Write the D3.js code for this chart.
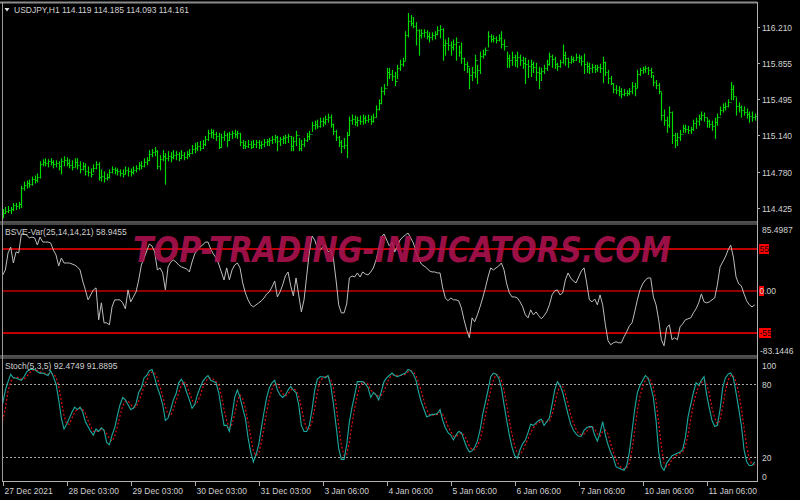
<!DOCTYPE html>
<html>
<head>
<meta charset="utf-8">
<script src="https://cdn.jsdelivr.net/npm/d3@7/dist/d3.min.js"></script>
<style>
body { margin: 0; background: #000; }
svg { display: block; }
text { font-family: "Liberation Sans", Arial, sans-serif; font-size: 8.5px; fill: #d0d0d0; }
</style>
</head>
<body>
<div id="chart"></div>
<script>
// USDJPY H1 bars, one value per bar (open = previous close)
const high = [114.41,114.43,114.44,114.43,114.47,114.47,114.48,114.64,114.68,114.69,114.70,114.73,114.74,114.76,114.88,114.90,114.91,114.90,114.91,114.89,114.89,114.88,114.91,114.93,
114.92,114.90,114.89,114.91,114.91,114.88,114.87,114.86,114.83,114.81,114.85,114.88,114.87,114.80,114.78,114.76,114.80,114.83,114.82,114.81,114.80,114.80,114.83,114.82,
114.81,114.83,114.84,114.87,114.88,114.91,114.92,114.99,115.00,115.02,114.99,114.94,114.99,114.96,114.98,114.97,114.99,114.98,114.97,114.99,114.97,114.98,115.00,115.04,
115.06,115.07,115.08,115.09,115.13,115.19,115.20,115.19,115.17,115.16,115.15,115.18,115.16,115.17,115.18,115.19,115.18,115.16,115.09,115.08,115.09,115.08,115.09,115.09,
115.09,115.08,115.10,115.10,115.11,115.13,115.14,115.13,115.12,115.13,115.14,115.15,115.13,115.12,115.18,115.11,115.09,115.11,115.16,115.18,115.27,115.28,115.29,115.31,
115.31,115.33,115.35,115.34,115.25,115.19,115.13,115.09,115.11,115.17,115.32,115.34,115.33,115.32,115.33,115.34,115.33,115.34,115.33,115.35,115.43,115.49,115.61,115.64,
115.80,115.80,115.78,115.76,115.83,115.88,115.90,116.16,116.34,116.32,116.30,116.25,116.18,116.18,116.18,116.17,116.15,116.15,116.16,116.21,116.22,116.19,116.08,116.10,
116.06,116.08,116.10,116.02,116.05,115.90,115.86,115.80,115.81,115.93,115.83,115.96,115.98,116.00,116.16,116.13,116.12,116.11,116.13,116.16,116.08,115.96,115.93,115.96,
115.93,115.96,115.93,115.91,115.90,115.88,115.88,115.86,115.85,115.81,115.80,115.83,115.88,115.95,115.93,115.91,115.85,115.88,116.03,115.96,115.90,115.92,115.91,115.94,
115.93,115.92,115.94,115.86,115.85,115.84,115.83,115.83,115.84,115.91,115.86,115.78,115.72,115.65,115.63,115.62,115.60,115.59,115.58,115.60,115.66,115.65,115.78,115.80,
115.81,115.82,115.81,115.80,115.73,115.68,115.65,115.56,115.39,115.32,115.42,115.37,115.16,115.16,115.19,115.24,115.24,115.23,115.22,115.29,115.31,115.34,115.37,115.36,
115.31,115.29,115.28,115.31,115.35,115.42,115.45,115.46,115.49,115.66,115.63,115.51,115.46,115.43,115.42,115.40,115.37,115.37,115.35]
const low = [114.33,114.37,114.38,114.37,114.40,114.41,114.42,114.43,114.60,114.62,114.63,114.65,114.67,114.68,114.72,114.84,114.84,114.83,114.85,114.82,114.83,114.80,114.76,114.84,
114.84,114.82,114.80,114.83,114.81,114.77,114.80,114.75,114.74,114.73,114.78,114.81,114.70,114.69,114.68,114.70,114.72,114.77,114.76,114.75,114.74,114.73,114.76,114.74,
114.74,114.76,114.78,114.80,114.81,114.83,114.85,114.89,114.93,114.94,114.81,114.80,114.89,114.66,114.89,114.88,114.91,114.90,114.89,114.91,114.90,114.91,114.93,114.96,
114.97,114.99,114.99,115.01,115.04,115.09,115.12,115.11,115.09,115.01,115.02,115.09,115.03,115.09,115.11,115.12,115.11,115.04,115.01,115.01,115.02,115.01,115.02,115.02,
115.01,115.01,115.03,115.04,115.04,115.06,115.07,114.99,115.04,115.06,115.06,115.07,114.99,114.99,115.04,114.99,114.99,115.03,115.08,115.10,115.18,115.20,115.21,115.22,
115.23,115.25,115.27,115.22,115.15,115.09,115.03,114.97,115.01,114.92,115.14,115.25,115.24,115.23,115.25,115.25,115.26,115.27,115.25,115.27,115.32,115.39,115.45,115.54,
115.63,115.70,115.68,115.63,115.70,115.78,115.82,115.88,116.11,116.22,116.20,116.03,115.93,116.10,116.11,116.09,116.06,116.08,116.09,116.13,116.10,115.88,115.93,115.98,
115.93,115.98,115.88,115.92,115.85,115.78,115.76,115.60,115.68,115.71,115.65,115.75,115.90,115.93,116.01,116.06,116.06,116.05,116.07,116.00,115.98,115.81,115.81,115.83,
115.82,115.81,115.83,115.80,115.65,115.71,115.72,115.76,115.68,115.60,115.68,115.75,115.78,115.83,115.81,115.80,115.78,115.81,115.85,115.83,115.81,115.85,115.86,115.88,
115.86,115.83,115.75,115.76,115.75,115.76,115.76,115.77,115.76,115.66,115.73,115.65,115.64,115.56,115.55,115.53,115.51,115.53,115.53,115.54,115.55,115.53,115.61,115.73,
115.75,115.76,115.74,115.71,115.63,115.60,115.55,115.29,115.24,115.17,115.22,115.06,115.02,115.04,115.09,115.17,115.17,115.16,115.16,115.19,115.21,115.24,115.29,115.28,
115.22,115.22,115.19,115.11,115.24,115.34,115.37,115.39,115.42,115.49,115.49,115.34,115.37,115.32,115.34,115.31,115.27,115.28,115.29]
const close = [114.38,114.40,114.41,114.42,114.45,114.44,114.46,114.62,114.65,114.67,114.66,114.71,114.70,114.73,114.86,114.88,114.87,114.89,114.88,114.86,114.87,114.84,114.89,114.90,
114.87,114.85,114.83,114.88,114.85,114.81,114.84,114.79,114.78,114.76,114.82,114.86,114.73,114.74,114.72,114.73,114.78,114.81,114.80,114.79,114.77,114.76,114.80,114.79,
114.78,114.80,114.82,114.85,114.84,114.88,114.90,114.96,114.98,114.99,114.84,114.91,114.94,114.92,114.94,114.93,114.95,114.96,114.92,114.95,114.93,114.96,114.97,115.01,
115.02,115.04,115.02,115.06,115.10,115.16,115.17,115.15,115.13,115.03,115.12,115.14,115.09,115.15,115.16,115.15,115.16,115.07,115.05,115.04,115.06,115.03,115.06,115.07,
115.05,115.06,115.07,115.08,115.09,115.10,115.12,115.08,115.10,115.11,115.12,115.13,115.04,115.08,115.14,115.02,115.06,115.09,115.13,115.15,115.24,115.25,115.23,115.28,
115.27,115.30,115.32,115.25,115.18,115.12,115.07,115.04,115.05,115.14,115.29,115.30,115.27,115.29,115.28,115.31,115.29,115.30,115.28,115.32,115.40,115.46,115.58,115.61,
115.76,115.74,115.72,115.68,115.80,115.84,115.87,116.13,116.27,116.25,116.22,116.18,116.13,116.15,116.16,116.12,116.11,116.13,116.14,116.18,116.19,116.03,116.05,116.03,
116.01,116.04,116.06,115.96,115.90,115.84,115.82,115.73,115.76,115.88,115.78,115.92,115.94,115.98,116.12,116.09,116.10,116.08,116.10,116.04,116.02,115.90,115.88,115.91,
115.88,115.91,115.88,115.85,115.84,115.82,115.84,115.81,115.76,115.75,115.77,115.80,115.84,115.92,115.89,115.84,115.82,115.86,115.93,115.90,115.86,115.89,115.88,115.91,
115.90,115.87,115.84,115.82,115.80,115.81,115.79,115.81,115.80,115.86,115.76,115.70,115.66,115.60,115.59,115.58,115.55,115.56,115.56,115.58,115.63,115.61,115.74,115.78,
115.79,115.80,115.78,115.76,115.67,115.64,115.58,115.34,115.29,115.24,115.37,115.14,115.09,115.12,115.15,115.21,115.20,115.19,115.20,115.26,115.28,115.31,115.34,115.32,
115.28,115.25,115.23,115.27,115.32,115.39,115.42,115.43,115.47,115.60,115.53,115.43,115.42,115.39,115.37,115.35,115.33,115.32,115.33]

// BSVE-Var(25,14,14,21)
const bsve = [20.7,27.2,49.2,56.9,36.2,50.5,49.2,73.8,73.8,72.5,68.6,69.9,68.6,59.5,69.9,63.4,63.4,63.4,62.1,53.0,46.6,32.3,42.7,36.2,
36.2,36.2,34.9,33.6,31.1,27.2,12.9,1.3,-11.6,-5.2,1.3,3.9,-37.5,-15.5,-41.4,-41.4,-44.0,-20.7,-11.6,-11.6,-11.6,-15.5,-23.3,1.3,
-14.2,-7.8,-1.3,14.2,33.6,42.7,51.8,60.8,58.2,50.5,27.2,29.8,23.3,1.3,31.1,37.5,40.1,37.5,33.6,31.1,29.8,28.5,24.6,37.5,
47.9,53.0,56.9,59.5,63.4,63.4,54.3,47.9,42.7,34.9,24.6,14.2,29.8,14.2,27.2,33.6,36.2,29.8,10.4,-2.6,-11.6,-18.1,-20.7,-18.1,
-15.5,-12.9,-9.1,-3.9,-1.3,5.2,12.9,-7.8,-1.3,7.8,19.4,24.6,6.5,-6.5,16.8,-5.2,-27.2,-11.6,19.4,50.5,71.2,66.0,55.6,53.0,
56.9,59.5,50.5,53.0,42.7,14.2,-18.1,-28.5,-28.5,-16.8,16.8,19.4,18.1,23.3,18.1,24.6,22.0,20.7,24.6,29.8,40.1,54.3,69.9,73.8,
66.0,58.2,63.4,50.5,58.2,66.0,69.9,72.5,75.0,68.6,62.1,50.5,41.4,34.9,32.3,29.8,25.9,24.6,24.6,23.3,23.3,3.9,-9.1,-12.9,
-9.1,-11.6,-11.6,-12.9,-22.0,-37.5,-50.5,-60.8,-35.0,-40.1,-31.1,-20.7,-9.1,3.9,18.1,29.8,27.2,29.8,32.3,36.2,27.2,9.1,-2.6,-7.8,
-7.8,-9.1,-14.2,-20.7,-31.1,-35.0,-24.6,-31.1,-27.2,-32.3,-36.2,-32.3,-27.2,-18.1,-5.2,0,1.3,-5.2,-2.6,14.2,23.3,16.8,12.9,10.4,
18.1,25.9,29.8,10.4,-11.6,-14.2,-10.4,-18.1,-5.2,-18.1,-44.0,-64.7,-69.9,-67.3,-66.0,-67.3,-67.3,-59.5,-53.0,-45.3,-41.4,-27.2,-11.6,1.3,
9.1,14.2,16.8,16.8,-7.8,-18.1,-37.5,-63.4,-71.2,-47.9,-44.0,-63.4,-60.8,-63.4,-46.6,-42.7,-37.5,-36.2,-35.0,-28.5,-23.3,-15.5,-3.9,-14.2,
-15.5,-14.2,-11.6,-9.1,7.8,31.1,37.5,44.0,53.0,59.5,44.0,18.1,9.1,6.5,-3.9,-12.9,-18.1,-20.7,-18.1]

// Stoch(5,3,5) main and signal
const stochMain = [64,75,82,88,85,85,84,83,86,90,92,92,92,90,89,89,88,87,91,86,80,67,52,43,
47,52,57,61,59,61,57,49,45,41,38,43,41,44,42,32,30,38,44,54,63,69,67,63,
59,60,64,73,77,85,87,91,92,85,77,71,63,50,52,59,67,72,81,84,80,73,67,60,
63,71,77,82,85,87,83,82,81,73,59,46,46,41,54,69,75,69,60,52,36,24,16,22,
30,44,57,69,77,81,83,75,71,69,71,75,78,75,73,63,46,41,41,46,59,75,84,86,
86,85,87,79,64,46,27,18,18,30,49,61,71,82,82,82,80,77,69,73,71,67,74,82,
85,87,89,87,86,87,88,89,92,91,88,83,73,65,59,53,54,55,55,56,59,50,44,40,
38,34,38,41,40,34,28,24,25,28,33,42,55,65,75,86,89,88,85,77,63,50,38,28,
21,19,26,31,34,40,47,46,48,50,51,46,49,52,63,75,82,79,73,64,55,47,42,39,
37,37,42,44,45,45,38,33,40,49,38,30,24,19,12,11,10,9,13,24,41,59,73,79,
83,87,85,78,69,50,24,12,9,15,18,21,22,23,24,26,36,53,63,73,81,79,83,86,
71,60,50,45,46,59,77,85,88,89,85,73,60,46,26,16,13,13,16]
const stochSignal = [50,60,74,82,85,86,85,84,84,86,89,91,92,91,90,89,89,88,89,88,86,78,66,54,
47,47,52,57,59,60,59,56,50,45,41,41,41,43,42,39,35,33,37,45,54,62,66,66,
63,61,61,66,71,78,83,88,90,89,85,78,70,61,55,54,59,66,73,79,82,79,73,67,
63,65,70,77,81,85,85,84,82,79,71,59,50,44,47,55,66,71,68,60,49,37,25,21,
23,32,44,57,68,76,80,80,76,72,70,72,75,76,75,70,61,50,43,43,49,60,73,82,
85,86,86,84,77,63,46,30,21,22,32,47,60,71,78,82,81,80,75,73,71,70,71,74,
80,85,87,88,87,87,87,88,90,91,90,87,81,74,66,59,55,54,55,55,57,55,51,45,
41,37,37,38,40,38,34,29,26,26,29,34,43,54,65,75,83,88,87,83,75,63,50,39,
29,23,22,25,30,35,40,44,47,48,50,49,49,49,55,63,73,79,78,72,64,55,48,43,
39,38,39,41,44,45,43,39,37,41,42,39,31,24,18,14,11,10,11,15,26,41,58,70,
78,83,85,83,77,66,48,29,15,12,14,18,20,22,23,24,29,38,51,63,72,78,81,83,
80,72,60,52,47,50,61,74,83,87,87,82,73,60,44,29,18,14,14]

const priceTicks = [116.210, 115.855, 115.495, 115.140, 114.780, 114.425]
const timeLabels = ["27 Dec 2021", "28 Dec 03:00", "29 Dec 03:00", "30 Dec 03:00", "31 Dec 03:00", "3 Jan 06:00",
  "4 Jan 06:00", "5 Jan 06:00", "6 Jan 06:00", "7 Jan 06:00", "10 Jan 06:00", "11 Jan 06:00"]
const labelStep = 24
const bsveLevels = [55, 0, -55]
const bsveBounds = [85.4987, -83.1446]
const stochLevels = [80, 20]

const width = 800, height = 500
const left = 2, right = 757

const svg = d3.select("#chart").append("svg")
  .attr("width", width).attr("height", height)
  .style("background", "#000")

const x = d3.scaleLinear().domain([0, close.length - 1]).range([2.7, 754.7])
const px = i => Math.round(x(i)) + 0.5

// panes: [top, bottom]
const bsvePane = [225, 355], stochPane = [359.7, 481.3]

const yPrice = d3.scaleLinear().domain([116.21, 114.425]).range([26.7, 208])
const yBsve = d3.scaleLinear().domain(bsveBounds).range(bsvePane)
const yStoch = d3.scaleLinear().domain([100, 0]).range(stochPane)

// ---------- price bars
const barColor = "#00dc00"
const bars = svg.append("g").style("stroke", barColor).style("stroke-width", 1.15)
close.forEach((c, i) => {
  const o = i > 0 ? close[i - 1] : c
  const xi = px(i)
  bars.append("line").attr("x1", xi).attr("x2", xi)
    .attr("y1", yPrice(high[i]) - 0.5).attr("y2", yPrice(low[i]) + 0.5)
  bars.append("line").attr("x1", xi - 1).attr("x2", xi)
    .attr("y1", Math.round(yPrice(o)) + 0.5).attr("y2", Math.round(yPrice(o)) + 0.5)
  bars.append("line").attr("x1", xi).attr("x2", xi + 1.2)
    .attr("y1", Math.round(yPrice(c)) + 0.5).attr("y2", Math.round(yPrice(c)) + 0.5)
})

// ---------- BSVE pane
svg.append("g").selectAll("line").data(bsveLevels).enter().append("line")
  .attr("x1", left).attr("x2", right)
  .attr("y1", d => Math.round(yBsve(d))).attr("y2", d => Math.round(yBsve(d)))
  .style("stroke", d => d == 0 ? "#c00000" : "#ff0000")
  .style("stroke-width", d => d == 0 ? 1.3 : 1.6)

const bsveLine = d3.line().x((d, i) => x(i)).y(d => yBsve(d))
svg.append("path").attr("d", bsveLine(bsve))
  .attr("fill", "none").attr("stroke", "#bdbdbd").attr("stroke-width", 1)

// watermark
svg.append("text").attr("x", 133).attr("y", 262)
  .attr("textLength", 538).attr("lengthAdjust", "spacingAndGlyphs")
  .style("font-family", "'DejaVu Sans', sans-serif").style("font-size", "35px")
  .style("font-weight", "bold").style("font-style", "italic")
  .style("fill", "#b0124f").style("fill-opacity", 0.88)
  .text("TOP-TRADING-INDICATORS.COM")

// ---------- Stoch pane
svg.append("g").selectAll("line").data(stochLevels).enter().append("line")
  .attr("x1", left).attr("x2", right)
  .attr("y1", d => Math.round(yStoch(d)) + 0.5).attr("y2", d => Math.round(yStoch(d)) + 0.5)
  .attr("stroke", "#a8a8a8").attr("stroke-dasharray", "2,2")

const stochLine = d3.line().x((d, i) => x(i)).y(d => yStoch(d))
svg.append("path").attr("d", stochLine(stochSignal))
  .attr("fill", "none").attr("stroke", "#e01010").attr("stroke-width", 1.2).attr("stroke-dasharray", "2,2")
svg.append("path").attr("d", stochLine(stochMain))
  .attr("fill", "none").attr("stroke", "#1ea99f").attr("stroke-width", 1.1)

// ---------- frames
const frame = svg.append("g").attr("fill", "none")
frame.append("line").attr("x1", 0).attr("x2", right).attr("y1", 2.5).attr("y2", 2.5).attr("stroke", "#8c8c8c").attr("stroke-width", 2)
;[221.5, 355.5].forEach(yy => {
  frame.append("line").attr("x1", 0).attr("x2", right).attr("y1", yy + 0.5).attr("y2", yy + 0.5).attr("stroke", "#a0a0a0").attr("stroke-width", 1)
  frame.append("line").attr("x1", 0).attr("x2", right).attr("y1", yy + 2.5).attr("y2", yy + 2.5).attr("stroke", "#8c8c8c").attr("stroke-width", 1)
})
frame.append("line").attr("x1", 2.5).attr("x2", 2.5).attr("y1", 2).attr("y2", 482).attr("stroke", "#9a9a9a")
frame.append("line").attr("x1", right + 0.5).attr("x2", right + 0.5).attr("y1", 2).attr("y2", 482).attr("stroke", "#b0b0b0")
frame.append("line").attr("x1", 2).attr("x2", right + 1).attr("y1", 481.5).attr("y2", 481.5).attr("stroke", "#b0b0b0")

// ---------- right axis labels
const axisG = svg.append("g")
priceTicks.forEach(t => {
  const yy = Math.round(yPrice(t)) + 0.5
  axisG.append("line").attr("x1", right).attr("x2", right + 3).attr("y1", yy).attr("y2", yy).attr("stroke", "#b0b0b0")
  axisG.append("text").attr("x", 762).attr("y", yy + 3).text(t.toFixed(3))
})

// BSVE scale
axisG.append("text").attr("x", 762).attr("y", yBsve(bsveBounds[0]) + 8).text(bsveBounds[0].toFixed(4))
axisG.append("text").attr("x", 760).attr("y", yBsve(bsveBounds[1]) - 1).text(bsveBounds[1].toFixed(4))
bsveLevels.forEach(l => {
  const yy = Math.round(yBsve(l))
  const w = l == 0 ? 5 : (l < 0 ? 12 : 10)
  axisG.append("rect").attr("x", 759).attr("y", yy - 5).attr("width", w).attr("height", 10).attr("fill", "#ff0000")
  if (l == 0) axisG.append("text").attr("x", 759.5).attr("y", yy + 3).text("0.00")
  else axisG.append("text").attr("x", 759.5).attr("y", yy + 3).style("fill", "#1a0000").text(String(l))
})

// Stoch scale
;[100, 80, 20, 0].forEach(v => {
  const yy = Math.round(yStoch(v)) + 0.5
  const off = v == 100 ? 8 : (v == 0 ? -2 : 3)
  axisG.append("text").attr("x", 762).attr("y", yy + off).text(v)
})

// ---------- time axis
timeLabels.forEach((t, k) => {
  const xi = px(k * labelStep)
  axisG.append("line").attr("x1", xi).attr("x2", xi).attr("y1", 482).attr("y2", 486).attr("stroke", "#b0b0b0")
  axisG.append("text").attr("x", xi + 1).attr("y", 493.5).text(t)
})

// ---------- pane titles
svg.append("path").attr("d", "M4.5,8 L9.5,8 L7,11.5 Z").attr("fill", "#e0e0e0")
svg.append("text").attr("x", 14).attr("y", 13).text("USDJPY,H1  114.119 114.185 114.093 114.161")
svg.append("text").attr("x", 5).attr("y", 235).text("BSVE-Var(25,14,14,21) 58.9455")
svg.append("text").attr("x", 5).attr("y", 369).text("Stoch(5,3,5) 92.4749 91.8895")
</script>
</body>
</html>
